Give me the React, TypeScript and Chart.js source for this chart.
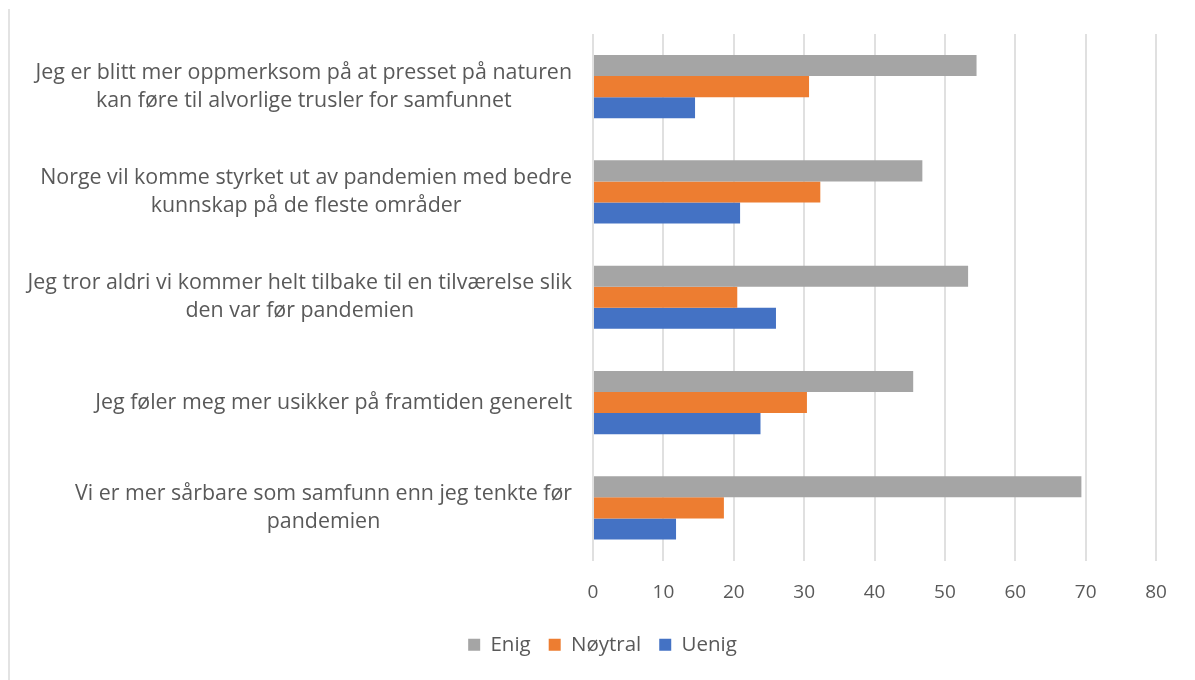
import React, { useEffect, useRef } from "react";
import { Chart, registerables } from "chart.js";

Chart.register(...registerables);

const categories: string[][] = [
  ["Jeg er blitt mer oppmerksom på at presset på naturen", "kan føre til alvorlige trusler for samfunnet"],
  ["Norge vil komme styrket ut av pandemien med bedre", "kunnskap på de fleste områder"],
  ["Jeg tror aldri vi kommer helt tilbake til en tilværelse slik", "den var før pandemien"],
  ["Jeg føler meg mer usikker på framtiden generelt"],
  ["Vi er mer sårbare som samfunn enn jeg tenkte før", "pandemien"],
];

const seriesNames = ["Enig", "Nøytral", "Uenig"];
const enig = [54.5, 46.8, 53.3, 45.5, 69.4];
const noytral = [30.7, 32.3, 20.5, 30.4, 18.6];
const uenig = [14.5, 20.9, 26.0, 23.8, 11.8];
const seriesColors = ["#A5A5A5", "#ED7D31", "#4472C4"];

const xMin = 0;
const xMax = 80;
const xStep = 10;

const FONT = "'Open Sans', 'Noto Sans', sans-serif";
const TEXT = "#595959";

const categoryLabelPlugin = {
  id: "categoryLabels",
  afterDraw(chart: any) {
    const { ctx, chartArea, scales } = chart;
    const y = scales.y;
    const labels = chart.data.labels as string[][];
    const right = chartArea.left - 21;
    const lineH = 28;
    ctx.save();
    ctx.font = `21.4px ${FONT}`;
    ctx.fillStyle = TEXT;
    ctx.textAlign = "center";
    ctx.textBaseline = "middle";
    labels.forEach((lines, i) => {
      const cy = y.getPixelForValue(i);
      const w = Math.max(...lines.map((l) => ctx.measureText(l).width));
      const cx = right - w / 2;
      const startY = cy - ((lines.length - 1) * lineH) / 2;
      lines.forEach((l, j) => ctx.fillText(l, cx, startY + j * lineH));
    });
    ctx.restore();
  },
};

export default function App() {
  const ref = useRef<HTMLCanvasElement | null>(null);

  useEffect(() => {
    if (!ref.current) return;
    const chart = new Chart(ref.current, {
      type: "bar",
      data: {
        labels: categories,
        datasets: [enig, noytral, uenig].map((d, i) => ({
          label: seriesNames[i],
          data: d,
          backgroundColor: seriesColors[i],
          borderWidth: 0,
          categoryPercentage: 0.6,
          barPercentage: 1.0,
        })),
      },
      options: {
        indexAxis: "y",
        responsive: false,
        maintainAspectRatio: false,
        animation: false,
        layout: { padding: { top: 34, left: 10, right: 0, bottom: 15 } },
        scales: {
          x: {
            min: xMin,
            max: xMax,
            ticks: {
              stepSize: xStep,
              padding: 21,
              color: TEXT,
              font: { family: FONT, size: 19 },
            },
            grid: { color: "#E0E0E0", lineWidth: 2, drawTicks: false },
            border: { display: false },
            afterFit: (scale: any) => {
              scale.height = 56;
            },
          },
          y: {
            position: "left",
            ticks: { display: false },
            grid: { display: false },
            border: { display: false },
            afterFit: (scale: any) => {
              scale.width = 583;
            },
          },
          yRight: {
            type: "category",
            position: "right",
            ticks: { display: false },
            grid: { display: false },
            border: { display: false },
            afterFit: (scale: any) => {
              scale.width = 39;
            },
          },
        },
        plugins: {
          legend: {
            position: "bottom",
            labels: {
              boxWidth: 12,
              boxHeight: 12,
              padding: 18,
              color: TEXT,
              font: { family: FONT, size: 20.5 },
            },
          },
          tooltip: { enabled: false },
        },
      },
      plugins: [categoryLabelPlugin],
    });
    return () => chart.destroy();
  }, []);

  return (
    <div style={{ position: "fixed", left: 0, top: 0, width: 1195, height: 680, background: "#fff" }}>
      <div style={{ position: "absolute", left: 8, top: 9, width: 2, bottom: 0, background: "#E3E3E3" }} />
      <canvas ref={ref} width={1195} height={680} style={{ position: "absolute", left: 0, top: 0 }} />
    </div>
  );
}
